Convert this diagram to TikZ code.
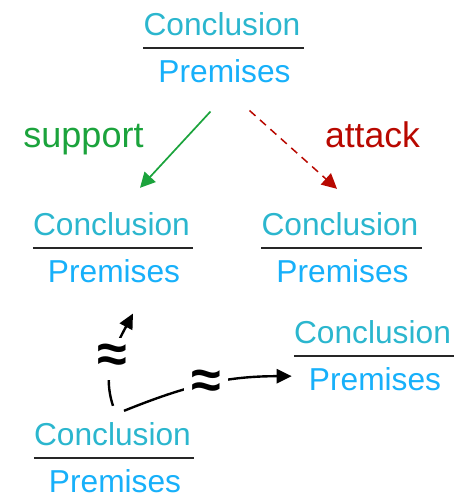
\documentclass[tikz,border=0pt]{standalone}
\usepackage{fontspec}
\setmainfont{Liberation Sans}
\usetikzlibrary{arrows.meta}

\definecolor{conccol}{RGB}{43,182,206}
\definecolor{premcol}{RGB}{23,176,250}
\definecolor{suppcol}{RGB}{27,163,60}
\definecolor{attcol}{RGB}{184,8,0}

\tikzset{
  concl/.style={inner sep=0pt, anchor=base, text=conccol, font=\fontsize{31.7}{36}\selectfont},
  prem/.style={inner sep=0pt, anchor=base, text=premcol, font=\fontsize{31.7}{36}\selectfont},
  rulebar/.style={line width=1.4pt, black!85},
  reltext/.style={inner sep=0pt, anchor=base, font=\fontsize{36}{40}\selectfont},
  approx/.style={fill=white, inner sep=7pt, font=\fontsize{54}{54}\selectfont\bfseries},
  suparrow/.style={suppcol, line width=1.7pt, -{Triangle[length=15pt,width=15pt]}},
  attarrow/.style={attcol, line width=1.5pt, dash pattern=on 8pt off 6pt, -{Triangle[length=15pt,width=15pt]}},
  conn/.style={black, line width=2.4pt, -{Triangle[length=15pt,width=14pt]}},
}

% one argument: conclusion over premises, separated by a rule
% #1 name, #2 centre x, #3 baseline of the conclusion (downwards)
\newcommand\argument[3]{%
  \node[concl] (c#1) at (#2,-#3) {Conclusion};
  \node[prem]  (p#1) at (#2+2.5,-#3-47) {Premises};
  \draw[rulebar] ([yshift=-13pt]c#1.base west) -- ([xshift=3pt,yshift=-13pt]c#1.base east);
}

\begin{document}
\begin{tikzpicture}[x=1pt,y=1pt]
  \useasboundingbox (0,0) rectangle (463,-496);

  \argument{1}{222}{35}
  \argument{2}{111.5}{235}
  \argument{3}{340}{235}
  \argument{4}{372.5}{343}
  \argument{5}{112.5}{445}

  \node[reltext, text=suppcol] (sup) at (83.5,-147) {support};
  \node[reltext, text=attcol, font=\fontsize{35.6}{40}\selectfont] (att) at (372.5,-147) {attack};

  \draw[suparrow] ([xshift=-14pt,yshift=-29pt]p1.south) -- ([xshift=28.5pt,yshift=24pt]c2.north);
  \draw[attarrow] ([xshift=25pt,yshift=-28pt]p1.south) -- ([xshift=-3pt,yshift=23pt]c3.north);

  \draw[conn] ([xshift=0.5pt,yshift=16pt]c5.north) to[out=108,in=242]
      node[approx] (ap1) {≈} ([xshift=19pt,yshift=-31pt]p2.south);
  \draw[conn] ([xshift=11.5pt,yshift=11pt]c5.north) to[out=22,in=180]
      node[approx] (ap2) {≈} ([xshift=-17pt,yshift=2.5pt]p4.west);
\end{tikzpicture}
\end{document}
